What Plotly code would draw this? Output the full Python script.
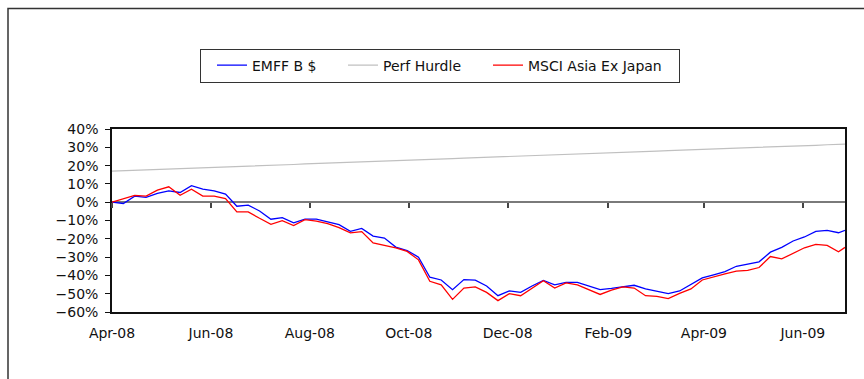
import pandas as pd
import plotly.graph_objects as go

# Weekly valuation dates (Fridays) plus the final month-end point
dates = list(pd.date_range("2008-04-04", "2009-06-26", freq="7D")) + [pd.Timestamp("2009-06-30")]

# Cumulative returns, in percent
emff_b = [0, -0.7, 3.3, 2.6, 4.8, 6.2, 5.3, 9.0, 7.1, 6.2, 4.4, -2.2, -1.6, -4.8, -9.3, -8.4,
          -11.3, -9.3, -9.3, -10.8, -12.3, -15.9, -14.3, -18.5, -19.6, -24.5, -26.4, -30.0,
          -41.0, -42.5, -47.8, -42.3, -42.6, -45.8, -51.1, -48.5, -49.3, -45.8, -42.7, -45.2,
          -43.8, -43.8, -46.0, -47.8, -47.1, -46.2, -45.4, -47.4, -48.5, -50.0, -48.5, -45.1,
          -41.4, -39.7, -37.9, -35.0, -33.9, -32.6, -27.3, -24.7, -21.2, -19.0, -15.9, -15.4,
          -16.7, -15.4]

perf_hurdle = [17.0, 17.2, 17.4, 17.7, 17.9, 18.1, 18.4, 18.6, 18.8, 19.0,
               19.3, 19.5, 19.7, 20.0, 20.2, 20.4, 20.6, 20.9, 21.1, 21.3,
               21.6, 21.8, 22.0, 22.2, 22.5, 22.7, 22.9, 23.1, 23.4, 23.6,
               23.8, 24.1, 24.3, 24.5, 24.7, 25.0, 25.2, 25.4, 25.7, 25.9,
               26.1, 26.3, 26.6, 26.8, 27.0, 27.3, 27.5, 27.7, 27.9, 28.2,
               28.4, 28.6, 28.9, 29.1, 29.3, 29.5, 29.8, 30.0, 30.2, 30.5,
               30.7, 30.9, 31.1, 31.4, 31.6, 31.7]

msci_axj = [0, 1.8, 3.7, 3.3, 6.6, 8.4, 3.8, 7.1, 3.3, 3.3, 2.0, -5.3, -5.3, -8.8, -12.1, -10.1,
            -12.8, -9.5, -10.3, -11.7, -13.9, -16.8, -16.1, -22.3, -23.6, -24.9, -26.9, -31.5,
            -43.2, -45.2, -53.1, -46.9, -46.3, -49.3, -53.8, -50.0, -51.1, -46.9, -42.9, -46.9,
            -44.1, -45.2, -47.8, -50.4, -48.0, -46.3, -46.9, -51.1, -51.5, -52.7, -49.8, -47.4,
            -42.5, -40.7, -39.2, -37.7, -37.2, -35.7, -29.7, -31.0, -27.8, -24.9, -23.1, -23.6,
            -27.1, -24.7]

series_names = ["EMFF B $", "Perf Hurdle", "MSCI Asia Ex Japan"]
y_min, y_max, y_step = -60, 40, 10

FONT = "DejaVu Sans"
W, H = 864, 379
ML, MR, MT, MB = 112, 19, 129, 67
pw, ph = W - ML - MR, H - MT - MB

x_range = [dates[0], dates[-1]]

fig = go.Figure()
# carrier for the tick marks that sit on the 0% line (drawn first, transparent)
fig.add_trace(go.Scatter(x=dates, y=perf_hurdle, xaxis="x2", mode="lines",
                         line=dict(width=1, color="rgba(0,0,0,0)"),
                         showlegend=False, hoverinfo="skip"))
fig.add_trace(go.Scatter(x=dates, y=emff_b, name=series_names[0], mode="lines",
                         line=dict(color="#0000ff", width=1.3), legendwidth=75))
fig.add_trace(go.Scatter(x=dates, y=perf_hurdle, name=series_names[1], mode="lines",
                         line=dict(color="#c0c0c0", width=1.2), legendwidth=89))
fig.add_trace(go.Scatter(x=dates, y=msci_axj, name=series_names[2], mode="lines",
                         line=dict(color="#ff0000", width=1.3), legendwidth=146))

fig.update_layout(
    width=W, height=H,
    margin=dict(l=ML, r=MR, t=MT, b=MB),
    paper_bgcolor="white", plot_bgcolor="white",
    font=dict(family=FONT, size=14, color="#111111"),
    showlegend=True,
    legend=dict(
        orientation="h",
        x=(200 - ML) / pw, y=(H - MB - 48.5) / ph,
        xanchor="left", yanchor="top",
        bgcolor="white", bordercolor="#333333", borderwidth=1,
        font=dict(family=FONT, size=14, color="#111111"),
        indentation=11,
        tracegroupgap=0,
    ),
    xaxis=dict(
        type="date", range=x_range,
        tick0=dates[0], dtick="M2", tickformat="%b-%y",
        showline=True, linecolor="#111111", linewidth=1.5, mirror=True,
        ticks="", showgrid=False, zeroline=False,
        ticklabelstandoff=7,
    ),
    xaxis2=dict(
        type="date", range=x_range, overlaying="x", anchor="free",
        position=(0 - y_min) / (y_max - y_min), side="bottom",
        tick0=dates[0], dtick="M2",
        ticks="outside", ticklen=5, tickwidth=2, tickcolor="#444444",
        showticklabels=False, showline=False, showgrid=False, zeroline=False,
    ),
    yaxis=dict(
        range=[y_min, y_max], dtick=y_step, tick0=0, ticksuffix="%",
        showline=True, linecolor="#111111", linewidth=1.5, mirror=True,
        ticks="outside", ticklen=5, tickcolor="#111111", tickwidth=1,
        showgrid=False,
        zeroline=True, zerolinecolor="#7a7a7a", zerolinewidth=2,
        ticklabelstandoff=4,
    ),
    shapes=[
        dict(type="rect", xref="paper", yref="paper",
             x0=(8 - ML) / pw, x1=1.5, y0=-1.0, y1=(H - MB - 8.5) / ph,
             line=dict(color="#333333", width=1.5), fillcolor="rgba(0,0,0,0)", layer="below"),
    ],
)

fig.write_html("out.html")
